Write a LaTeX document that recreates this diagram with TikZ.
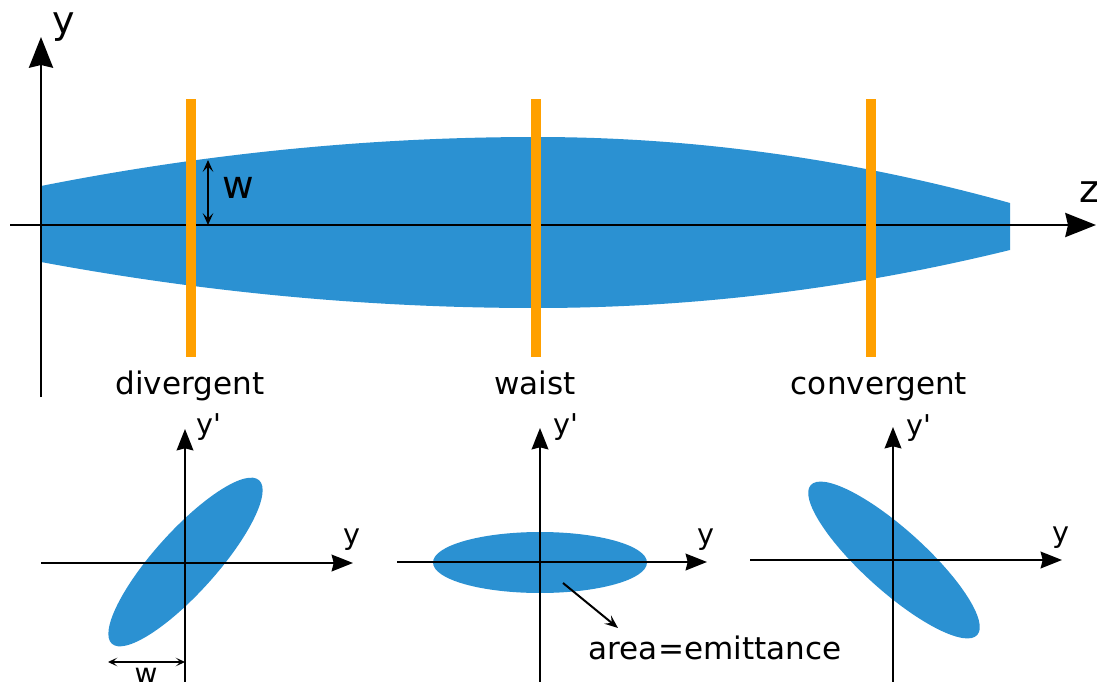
\documentclass[tikz,border=0pt]{standalone}
\usepackage{fontspec}
\setmainfont{DejaVu Sans}
\usetikzlibrary{arrows.meta}
\definecolor{beamblue}{HTML}{2B91D2}
\definecolor{screenorange}{HTML}{FFA000}
\begin{document}
\begin{tikzpicture}[x=0.75pt,y=0.75pt,
  bigaxis/.style={line width=2.1pt,-{Stealth[length=23pt,width=18pt,inset=2pt]}},
  smallaxis/.style={line width=1.6pt,-{Stealth[length=16pt,width=12.5pt,inset=1.5pt]}},
  screenbar/.style={screenorange,line width=7.5pt},
  beamfill/.style={fill=beamblue},
  warrow/.style={line width=1.5pt,{Stealth[length=9pt,width=8pt,inset=4pt]}-{Stealth[length=9pt,width=8pt,inset=4pt]}},
  wsmall/.style={line width=1pt,{Stealth[length=7pt,width=6.5pt,inset=3.5pt]}-{Stealth[length=7pt,width=6.5pt,inset=3.5pt]}},
  pointer/.style={line width=1.5pt,-{Stealth[length=10pt,width=8pt,inset=4pt]}},
  biglbl/.style={inner sep=0pt,font=\fontsize{28.5}{34}\selectfont},
  lbl/.style={inner sep=0pt,font=\fontsize{23.3}{28}\selectfont},
  axlbl/.style={inner sep=0pt,font=\fontsize{21.5}{26}\selectfont}]
\useasboundingbox (0,0) rectangle (1097,-682);

% beam envelope
\fill[beamfill] (41,-186) .. controls (206,-153.3) and (371,-137) .. (536,-137)
  .. controls (694,-137) and (852,-159) .. (1010,-203) -- (1010,-250)
  .. controls (852,-288.7) and (694,-308) .. (536,-308)
  .. controls (371,-308) and (206,-292.7) .. (41,-262) -- cycle;

% main axes
\coordinate (yb) at (41,-397);
\coordinate (yt) at (41,-37);
\coordinate (zl) at (10,-225);
\coordinate (zr) at (1096,-225);
\draw[bigaxis] (yb) -- (yt);
\draw[bigaxis] (zl) -- (zr);
\node[biglbl] (ylab) at (64,-27) {y};
\node[biglbl] (zlab) at (1089,-192) {z};

% screens
\coordinate (s1t) at (191,-99);  \coordinate (s1b) at (191,-357);
\coordinate (s2t) at (536,-99);  \coordinate (s2b) at (536,-357);
\coordinate (s3t) at (871,-99);  \coordinate (s3b) at (871,-357);
\draw[screenbar] (s1t) -- (s1b);
\draw[screenbar] (s2t) -- (s2b);
\draw[screenbar] (s3t) -- (s3b);

% w in top
\coordinate (wt) at (208,-160);
\coordinate (wb) at (208,-225);
\draw[warrow] (wt) -- (wb);
\node[biglbl,font=\fontsize{29}{34}\selectfont] (wlab) at (238,-188) {w};

\node[lbl,anchor=base] (div) at (190,-394) {divergent};
\node[lbl,anchor=base] (wai) at (535,-394) {waist};
\node[lbl,anchor=base] (con) at (879,-394) {convergent};

% phase space 1 (divergent)
\fill[beamfill,rotate around={48:(185.5,-562)}] (185.5,-562) ellipse [x radius=110, y radius=31];
\coordinate (p1vb) at (185,-682); \coordinate (p1vt) at (185,-429);
\coordinate (p1hl) at (41,-563);  \coordinate (p1hr) at (353,-563);
\draw[smallaxis] (p1vb) -- (p1vt);
\draw[smallaxis] (p1hl) -- (p1hr);
\node[axlbl] (p1yp) at (209,-427) {y\textquotesingle};
\node[axlbl] (p1y) at (352,-540) {y};
\coordinate (w2l) at (108,-662); \coordinate (w2r) at (185,-662);
\draw[wsmall] (w2l) -- (w2r);
\node[lbl,anchor=base,font=\fontsize{21}{25}\selectfont] (w2lab) at (146,-683) {w};

% phase space 2 (waist)
\fill[beamfill] (540,-562.5) ellipse [x radius=107, y radius=30.5];
\coordinate (p2vb) at (540,-682); \coordinate (p2vt) at (540,-428);
\coordinate (p2hl) at (397,-562); \coordinate (p2hr) at (707,-562);
\draw[smallaxis] (p2vb) -- (p2vt);
\draw[smallaxis] (p2hl) -- (p2hr);
\node[axlbl] (p2yp) at (566,-427) {y\textquotesingle};
\node[axlbl] (p2y) at (706,-540) {y};
\coordinate (ar1) at (563,-583); \coordinate (ar2) at (618,-628);
\draw[pointer] (ar1) -- (ar2);
\node[lbl,anchor=base] (emit) at (715,-659) {area=emittance};

% phase space 3 (convergent)
\fill[beamfill,rotate around={-42:(894,-560)}] (894,-560) ellipse [x radius=112, y radius=31];
\coordinate (p3vb) at (893,-682); \coordinate (p3vt) at (893,-427);
\coordinate (p3hl) at (750,-560); \coordinate (p3hr) at (1062,-560);
\draw[smallaxis] (p3vb) -- (p3vt);
\draw[smallaxis] (p3hl) -- (p3hr);
\node[axlbl] (p3yp) at (919,-428) {y\textquotesingle};
\node[axlbl] (p3y) at (1061,-538) {y};
\end{tikzpicture}
\end{document}
